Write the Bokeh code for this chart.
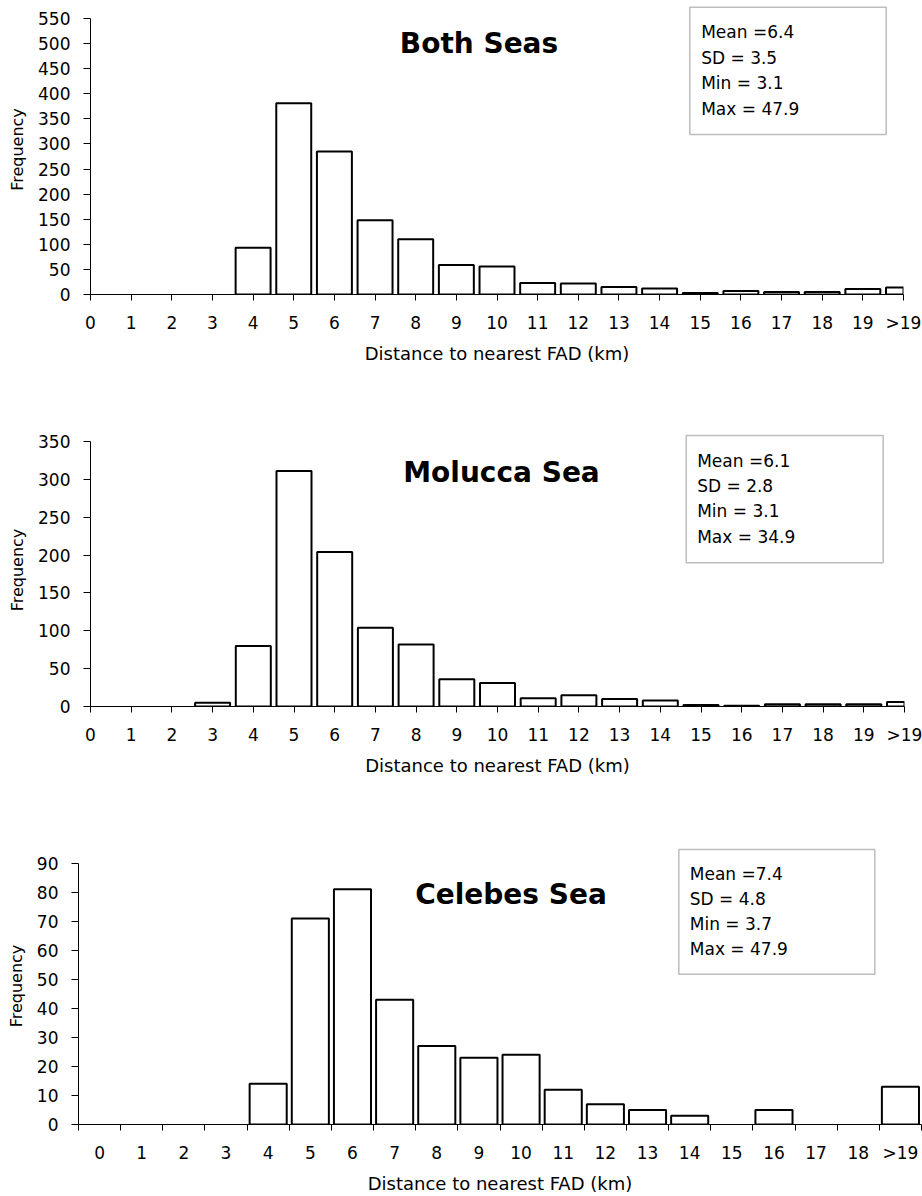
from bokeh.plotting import figure
from bokeh.models import FixedTicker, BoxAnnotation, Label, Range1d
from bokeh.embed import file_html
from bokeh.resources import INLINE

FONT = "DejaVu Sans"

# ---------------- data ----------------
labels_ab = [str(i) for i in range(20)] + [">19"]
both_seas = [0, 0, 0, 0, 93, 381, 285, 148, 110, 59, 56, 23, 22, 15, 12, 3, 7, 5, 5, 11, 14]
molucca_sea = [0, 0, 0, 5, 80, 311, 204, 104, 82, 36, 31, 11, 15, 10, 8, 2, 1, 3, 3, 3, 6]

labels_c = [str(i) for i in range(19)] + [">19"]
celebes_sea = [0, 0, 0, 0, 14, 71, 81, 43, 27, 23, 24, 12, 7, 5, 3, 0, 5, 0, 0, 13]

titles = ["Both Seas", "Molucca Sea", "Celebes Sea"]
stats_both = ["Mean =6.4", "SD = 3.5", "Min = 3.1", "Max = 47.9"]
stats_molucca = ["Mean =6.1", "SD = 2.8", "Min = 3.1", "Max = 34.9"]
stats_celebes = ["Mean =7.4", "SD = 4.8", "Min = 3.7", "Max = 47.9"]

y_max = [550, 350, 90]
y_step = [50, 50, 10]

W = 922


def make_panel(labels, counts, title, stats, ymax, ystep, between,
               origin, height, ymax_px, bottom, left, right,
               title_cx, title_base, box, text_left, baselines, bar_w):
    n = len(labels)
    if between:
        x0, x1 = -0.5, n - 0.5
    else:
        x0, x1 = 0, n - 1
    bl, br, bt, bb = box
    top = int(min(bt - origin, ymax_px)) - 2
    y0_rel = height - bottom
    fw = W - left - right
    y_end = ymax * (y0_rel - top) / (y0_rel - ymax_px)

    def dx(px):
        return x0 + (px - left) / fw * (x1 - x0)

    def dy(py):
        return (y0_rel - (py - origin)) / (y0_rel - ymax_px) * ymax

    p = figure(width=W, height=height, output_backend="svg", toolbar_location=None,
               x_range=Range1d(x0, x1), y_range=Range1d(0, y_end),
               min_border_left=left, min_border_right=right,
               min_border_top=top, min_border_bottom=bottom)
    p.outline_line_color = None
    p.xgrid.visible = False
    p.ygrid.visible = False
    p.background_fill_color = "white"
    p.border_fill_color = "white"

    xs = [i for i, c in enumerate(counts) if c > 0]
    tops = [c for c in counts if c > 0]
    p.vbar(x=xs, top=tops, bottom=0, width=bar_w,
           fill_color="white", line_color="black", line_width=2)

    # axes
    for ax in (p.xaxis[0], p.yaxis[0]):
        ax.axis_line_color = "black"
        ax.axis_line_width = 1
        ax.major_tick_line_color = "black"
        ax.major_tick_line_width = 1
        ax.major_tick_in = 0
        ax.minor_tick_line_color = None
        ax.major_label_text_font = FONT
        ax.major_label_text_font_size = "17px"
        ax.major_label_text_color = "black"
        ax.axis_label_text_font = FONT
        ax.axis_label_text_font_style = "normal"
        ax.axis_label_text_color = "black"

    yax = p.yaxis[0]
    yax.ticker = FixedTicker(ticks=list(range(0, ymax + 1, ystep)), minor_ticks=[])
    yax.bounds = (0, ymax)
    yax.major_tick_out = 7
    yax.major_label_standoff = 13
    yax.axis_label = "Frequency"
    yax.axis_label_text_font_size = "16px"
    yax.axis_label_standoff = 8

    xax = p.xaxis[0]
    if between:
        xax.ticker = FixedTicker(ticks=list(range(n)),
                                 minor_ticks=[i - 0.5 for i in range(n + 1)])
        xax.major_tick_line_color = None
        xax.minor_tick_line_color = "black"
        xax.minor_tick_in = 0
        xax.minor_tick_out = 6
    else:
        xax.ticker = FixedTicker(ticks=list(range(n)), minor_ticks=[])
    xax.major_tick_out = 6
    xax.major_label_standoff = 12
    xax.major_label_overrides = {i: lab for i, lab in enumerate(labels)}
    xax.axis_label = "Distance to nearest FAD (km)"
    xax.axis_label_text_font_size = "18px"
    xax.axis_label_standoff = 7

    # title inside plot
    p.add_layout(Label(x=dx(title_cx), y=dy(title_base), text=title,
                       text_align="center", text_baseline="alphabetic",
                       text_font=FONT, text_font_style="bold",
                       text_font_size="28px", text_color="black"))

    # stats box
    p.add_layout(BoxAnnotation(left=dx(bl), right=dx(br), top=dy(bt), bottom=dy(bb),
                               fill_color="white", fill_alpha=1.0,
                               line_color="#bdbdbd", line_width=1.5, line_alpha=1.0))
    for s, b in zip(stats, baselines):
        p.add_layout(Label(x=dx(text_left), y=dy(b), text=s,
                           text_align="left", text_baseline="alphabetic",
                           text_font=FONT, text_font_size="17px",
                           text_color="black"))
    return p


p1 = make_panel(labels_ab, both_seas, titles[0], stats_both, y_max[0], y_step[0], False,
                origin=0, height=400, ymax_px=18, bottom=106, left=90, right=19,
                title_cx=478.5, title_base=43.3, box=(689.3, 885.7, 6.7, 134),
                text_left=700.7, baselines=[31.7, 57.3, 82.7, 108.3], bar_w=0.86)
p2 = make_panel(labels_ab, molucca_sea, titles[1], stats_molucca, y_max[1], y_step[1], False,
                origin=400, height=410, ymax_px=41, bottom=104, left=90, right=18,
                title_cx=501, title_base=471.7, box=(685.7, 882.7, 435, 562.3),
                text_left=696.7, baselines=[460.7, 485.7, 510.7, 536.7], bar_w=0.86)
p3 = make_panel(labels_c, celebes_sea, titles[2], stats_celebes, y_max[2], y_step[2], True,
                origin=810, height=386, ymax_px=53, bottom=67, left=78, right=1,
                title_cx=510.5, title_base=895, box=(678.3, 874.3, 849, 976),
                text_left=689.3, baselines=[874, 899, 924.7, 950], bar_w=0.88)

# separate roots so that Bokeh does not align the three plot frames
open("out.html", "w").write(file_html([p1, p2, p3], INLINE))
